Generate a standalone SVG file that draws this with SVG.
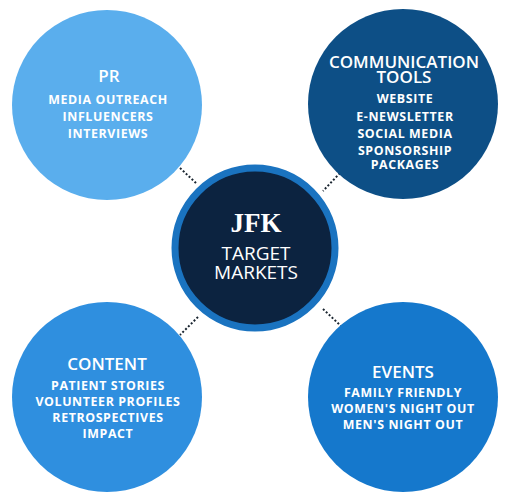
<svg xmlns="http://www.w3.org/2000/svg" width="511" height="500" viewBox="0 0 511 500">
<style>
.t{font-family:"Open Sans","Liberation Sans",sans-serif;fill:#fff;text-anchor:middle}
.h{font-size:17px;font-weight:600}
.i{font-size:12.4px;font-weight:700;letter-spacing:0.6px}
.c{stroke:#1a2530;stroke-width:2;stroke-dasharray:2 2;fill:none}
</style>
<rect width="511" height="500" fill="#fff"/>
<g id="connectors">
<line class="c" x1="180" y1="168" x2="197" y2="184"/>
<line class="c" x1="340" y1="173" x2="323" y2="191"/>
<line class="c" x1="198" y1="317" x2="180" y2="335"/>
<line class="c" x1="323" y1="309" x2="341" y2="326"/>
</g>
<g id="pr">
<circle cx="107" cy="105" r="95" fill="#5aaeed"/>
<text class="t h" x="109" y="82">PR</text>
<text class="t i" x="108" y="104">MEDIA OUTREACH</text>
<text class="t i" x="108" y="121">INFLUENCERS</text>
<text class="t i" x="108" y="138">INTERVIEWS</text>
</g>
<g id="comm">
<circle cx="403" cy="104" r="95" fill="#0d4f86"/>
<text class="t h" x="404" y="68">COMMUNICATION</text>
<text class="t h" x="404" y="83">TOOLS</text>
<text class="t i" x="405" y="103">WEBSITE</text>
<text class="t i" x="405" y="121">E-NEWSLETTER</text>
<text class="t i" x="405" y="138">SOCIAL MEDIA</text>
<text class="t i" x="405" y="155">SPONSORSHIP</text>
<text class="t i" x="405" y="169">PACKAGES</text>
</g>
<g id="content">
<circle cx="107" cy="397" r="95" fill="#2f8fdf"/>
<text class="t h" x="107" y="370">CONTENT</text>
<text class="t i" x="108" y="390">PATIENT STORIES</text>
<text class="t i" x="108" y="406">VOLUNTEER PROFILES</text>
<text class="t i" x="108" y="422">RETROSPECTIVES</text>
<text class="t i" x="108" y="438">IMPACT</text>
</g>
<g id="events">
<circle cx="403" cy="397" r="95" fill="#1578cc"/>
<text class="t h" x="403" y="378">EVENTS</text>
<text class="t i" x="403" y="397">FAMILY FRIENDLY</text>
<text class="t i" x="403" y="413">WOMEN'S NIGHT OUT</text>
<text class="t i" x="403" y="429">MEN'S NIGHT OUT</text>
</g>
<g id="center">
<circle cx="255" cy="248" r="80" fill="#0c2340" stroke="#1a73c0" stroke-width="7"/>
<text x="256" y="232" font-family="'Liberation Serif',serif" font-weight="700" font-size="27" fill="#fff" text-anchor="middle">JFK</text>
<text class="t" x="256" y="260" font-size="19">TARGET</text>
<text class="t" x="256" y="279" font-size="19">MARKETS</text>
</g>
</svg>
